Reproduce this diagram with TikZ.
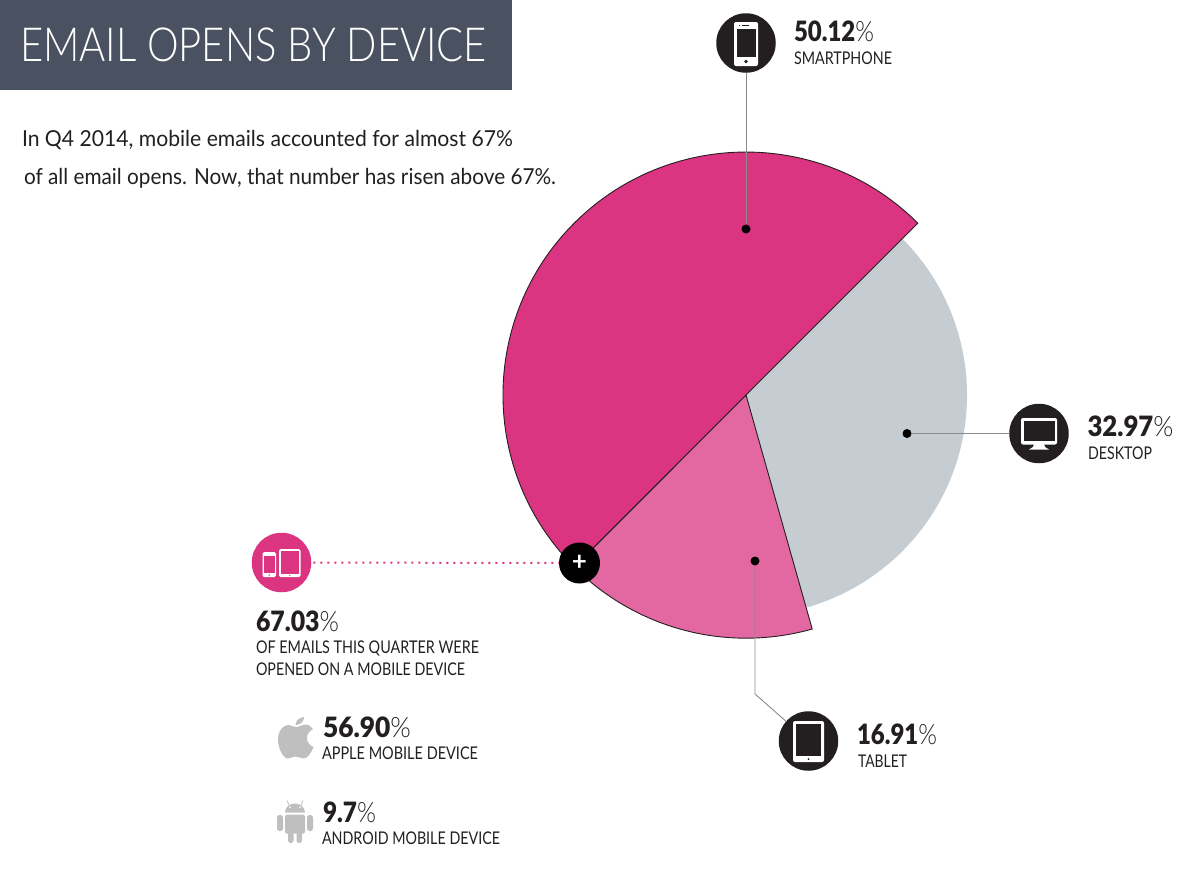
\documentclass[tikz,border=0pt]{standalone}
\usepackage{graphicx}
\usepackage{fontspec}
\setmainfont{Lato}
\newfontfamily\lightf{Lato Light}
\newfontfamily\blackf{Lato Black}
\newcommand{\fitw}[2]{\resizebox{#1pt}{\height}{#2}}
\newcommand{\bign}[2]{\fitw{#1}{{\fontsize{28}{28}\selectfont\blackf #2\lightf\%}}}
\newcommand{\capt}[2]{\fitw{#1}{{\fontsize{17.5}{20}\selectfont #2}}}
\definecolor{titlebg}{HTML}{4A5261}
\definecolor{magentaA}{HTML}{DB3480}
\definecolor{magentaB}{HTML}{E368A2}
\definecolor{greyPie}{HTML}{C5CDD2}
\definecolor{inkD}{HTML}{231F20}
\definecolor{iconG}{HTML}{BFBFBF}
\definecolor{leadG}{HTML}{8A8A8A}
\tikzset{
  txt/.style={anchor=base west,inner sep=0pt,outer sep=0pt,text=inkD},
  badge/.style={circle,fill=inkD,minimum size=59.5pt,inner sep=0pt},
  pinkbadge/.style={circle,fill=magentaA,minimum size=59.5pt,inner sep=0pt},
  plusbadge/.style={circle,fill=black,minimum size=41pt,inner sep=0pt,text=white},
  pinpoint/.style={circle,fill=black,minimum size=9pt,inner sep=0pt},
  lead/.style={draw=leadG,line width=0.9pt},
  pieedge/.style={draw=inkD,line width=0.9pt,line join=miter},
  iconw/.style={fill=white,rounded corners=2pt},
  icond/.style={fill=inkD},
  iconp/.style={fill=magentaA}
}
\begin{document}
\begin{tikzpicture}[x=1pt,y=-1pt]
\useasboundingbox (0,0) rectangle (1200,871);
% title
\fill[titlebg] (0,0) rectangle (511.5,89.5);
\node[txt,text=white] (title) at (20,61) {\fitw{467}{{\fontsize{47}{47}\selectfont\lightf EMAIL OPENS BY DEVICE}}};
\node[txt] (introa) at (22,146) {\fitw{491}{{\fontsize{22}{24}\selectfont In Q4 2014, mobile emails accounted for almost 67\%}}};
\node[txt] (introb) at (24,184) {\fitw{532}{{\fontsize{22}{24}\selectfont of all email opens. Now, that number has risen above 67\%.}}};
% pie
\fill[greyPie] (746,395) -- (902.3,238.7) arc (-45:74.2:221) -- cycle;
\path[fill=magentaB,pieedge] (746,395) -- (812.2,629) arc (74.2:135:243) -- cycle;
\path[fill=magentaA,pieedge] (746,395) -- (917.8,223.2) arc (-45:-225:243) -- cycle;
% badges and pins
\node[pinpoint] (sdot) at (746,229) {};
\node[pinpoint] (ddot) at (907,433.5) {};
\node[pinpoint] (tdot) at (755,561) {};
\node[badge] (smart) at (746,43) {};
\node[badge] (desk) at (1039,433.5) {};
\node[badge] (tab) at (808.5,741) {};
\node[pinkbadge] (mob) at (281.5,562.5) {};
\node[plusbadge,font=\fontsize{26}{26}\selectfont\bfseries] (plus) at (579.5,563) {+};
\coordinate (tbend) at (755,694);
\draw[lead] (smart) -- (sdot);
\draw[lead] (desk) -- (ddot);
\draw[lead] (tdot) -- (tbend) -- (tab);
\draw[magentaA,line width=2pt,dash pattern=on 2pt off 5pt,shorten <=2pt] (mob) -- (plus);
% smartphone icon
\fill[iconw] (734,22) rectangle (758,66);
\fill[icond] (736.5,29) rectangle (755.5,57);
\fill[icond] (746,61.5) circle (1.8);
\fill[icond] (742,25) rectangle (749,26);
\fill[icond] (739,25) rectangle (740,26);
% desktop icon
\fill[iconw] (1021,418) rectangle (1057,444.5);
\fill[icond] (1023.5,420.5) rectangle (1054.5,440.5);
\fill[white] (1034,444) -- (1044,444) -- (1045,447) -- (1049,449.5) -- (1029,449.5) -- (1033,447) -- cycle;
% tablet icon
\fill[iconw] (793,721) rectangle (824,762);
\fill[icond] (796,724) rectangle (821,756);
\fill[icond] (808.5,759) circle (1);
% mobile icon
\fill[white,rounded corners=1.5pt] (262.5,552) rectangle (276,577);
\fill[iconp] (264,556) rectangle (274.5,573);
\fill[iconp] (269.2,575) circle (0.8);
\fill[white,rounded corners=1.5pt] (279,549) rectangle (300.5,577);
\fill[iconp] (281,551) rectangle (298.5,574);
\fill[iconp] (289.7,575.5) circle (0.6);
% apple logo
\fill[iconG] (296,727) .. controls (300,727) and (302,724.5) .. (305,724.5)
  .. controls (308.5,724.5) and (311.5,726.5) .. (313,729)
  .. controls (308,732) and (306.5,735.5) .. (307,739)
  .. controls (307.5,743) and (310,745.5) .. (313.5,747)
  .. controls (311.5,752) and (308,758.5) .. (303.5,758.5)
  .. controls (300.5,758.5) and (299,756.5) .. (295.5,756.5)
  .. controls (292,756.5) and (291,758.5) .. (288,758.5)
  .. controls (283,758.5) and (278,748) .. (278,739.5)
  .. controls (278,731) and (283,725) .. (288.5,725)
  .. controls (291.5,725) and (293.5,727) .. (296,727) -- cycle;
\fill[iconG] (295.5,725) .. controls (295.5,721) and (299,717.5) .. (304,717)
  .. controls (304,721.5) and (300.5,725) .. (295.5,725) -- cycle;
% android logo
\fill[iconG] (285,812.5) .. controls (285,807) and (290,803.5) .. (295,803.5)
  .. controls (300,803.5) and (305,807) .. (305,812.5) -- cycle;
\draw[iconG,line width=0.8pt] (289,805) -- (287,800.5) (301,805) -- (303,800.5);
\fill[white] (290,807.3) circle (0.9) (300,807.3) circle (0.9);
\fill[iconG,rounded corners=1.5pt] (285,814.5) rectangle (305,833.5);
\fill[iconG,rounded corners=2.5pt] (277,815) rectangle (283,831);
\fill[iconG,rounded corners=2.5pt] (307,815) rectangle (313,831);
\fill[iconG,rounded corners=2.5pt] (288,828) rectangle (293.5,843);
\fill[iconG,rounded corners=2.5pt] (296.5,828) rectangle (302,843);
% labels
\node[txt] (n1) at (794,41.5) {\bign{80}{50.12}};
\node[txt] (c1) at (794,64) {\capt{98}{SMARTPHONE}};
\node[txt] (n2) at (1087.5,436) {\bign{86}{32.97}};
\node[txt] (c2) at (1088,459) {\capt{64}{DESKTOP}};
\node[txt] (n3) at (857,744) {\bign{80}{16.91}};
\node[txt] (c3) at (858,767) {\capt{49}{TABLET}};
\node[txt] (n4) at (256,631) {\bign{83}{67.03}};
\node[txt] (c4a) at (256,653) {\capt{223}{OF EMAILS THIS QUARTER WERE}};
\node[txt] (c4b) at (256,675) {\capt{209}{OPENED ON A MOBILE DEVICE}};
\node[txt] (n5) at (323,737) {\bign{88}{56.90}};
\node[txt] (c5) at (322,759) {\capt{156}{APPLE MOBILE DEVICE}};
\node[txt] (n6) at (323,822) {\bign{53}{9.7}};
\node[txt] (c6) at (322,844) {\capt{178}{ANDROID MOBILE DEVICE}};
\end{tikzpicture}
\end{document}
